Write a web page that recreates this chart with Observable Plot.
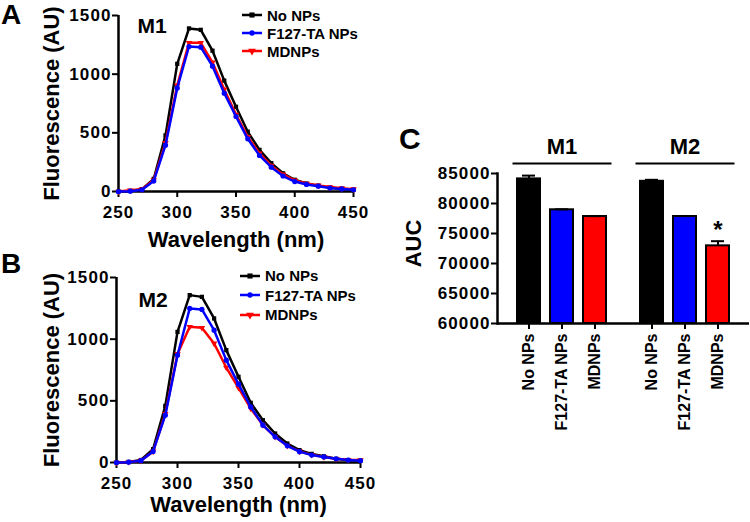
<!DOCTYPE html>
<html><head><meta charset="utf-8">
<script src="https://cdn.jsdelivr.net/npm/d3@7"></script>
<script src="https://cdn.jsdelivr.net/npm/@observablehq/plot@0.6"></script>
<style>
body{margin:0;background:#fff;}
#fig{position:relative;width:750px;height:522px;overflow:hidden;font-family:"Liberation Sans",Arial,sans-serif;font-weight:bold;color:#000;}
.letter{position:absolute;font-weight:bold;line-height:1;}
.legend{position:absolute;font-size:15px;}
.legend .row{display:flex;align-items:center;}
.legend svg{margin-right:4px;display:block;}
g[aria-label="y-axis tick label"] text, g[aria-label="x-axis tick label"].num text{letter-spacing:1.1px;}
</style></head><body><div id="fig"></div>
<script>
// ---------- data ----------
const wavelengths = [250,260,270,280,290,300,310,320,330,340,350,360,370,380,390,400,410,420,430,440,450];
const seriesNames = ["No NPs","F127-TA NPs","MDNPs"];
const seriesColors = ["#000000","#0000ff","#ff0000"];
const seriesSymbols = ["square","circle","triangle"];

const m1NoNPs = [0,5,20,108,478,1088,1390,1378,1200,945,722,510,355,242,155,100,68,50,32,22,15];
const m1F127  = [0,3,15,90,395,883,1236,1230,1068,838,639,449,307,207,132,85,60,45,30,22,15];
const m1MDNPs = [0,10,20,98,415,905,1267,1267,1100,870,655,465,325,220,145,95,68,52,38,28,20];

const m2NoNPs = [0,5,20,108,459,1059,1357,1343,1168,911,695,484,343,235,154,100,70,50,30,20,15];
const m2F127  = [0,3,15,90,384,870,1249,1241,1073,830,635,451,303,208,135,88,60,45,30,20,15];
const m2MDNPs = [0,5,15,90,395,880,1100,1092,965,770,605,438,303,208,135,90,62,45,30,22,20];

const xTicks = [250,300,350,400,450];
const yTicks = [0,500,1000,1500];

const barGroups = ["M1","M1","M1","M2","M2","M2"];
const barTreatments = ["No NPs","F127-TA NPs","MDNPs","No NPs","F127-TA NPs","MDNPs"];
const barAUC = [84100,78950,77830,83700,77830,72940];
const barSEM = [550,80,60,250,80,780];
const barSig = ["","","","","","*"];
const aucTicks = [60000,65000,70000,75000,80000,85000];
const groupNames = ["M1","M2"];

// ---------- helpers ----------
const FONT = "'Liberation Sans', Arial, sans-serif";
const fig = document.getElementById("fig");
function place(el, left, top){ el.style.position="absolute"; el.style.left=left+"px"; el.style.top=top+"px"; fig.appendChild(el); return el; }

function spectrum(vals, label, L){
  const rows = [];
  seriesNames.forEach((s,k)=>wavelengths.forEach((w,i)=>rows.push({series:s, wl:w, v:vals[k][i]})));
  const drawOrder = ["No NPs","MDNPs","F127-TA NPs"];
  const marks = [
    Plot.ruleX([wavelengths[0]], {stroke:"#000", strokeWidth:2.5}),
    Plot.ruleY([0], {stroke:"#000", strokeWidth:2.5}),
    Plot.axisX({ticks:xTicks, tickSize:6, tickPadding:8, strokeWidth:2, fontSize:17, label:null, tickFormat:d=>String(d), className:"num"}),
    Plot.axisY({ticks:yTicks, tickSize:6, tickPadding:1, strokeWidth:2, fontSize:17, label:null, tickFormat:d=>String(d)}),
    Plot.axisX({ticks:[], tickSize:0, fontSize:22, label:"Wavelength (nm)", labelAnchor:"center", labelArrow:"none", labelOffset:L.xLabelOffset}),
    Plot.axisY({ticks:[], tickSize:0, fontSize:22, label:"Fluorescence (AU)", labelAnchor:"center", labelArrow:"none", labelOffset:L.yLabelOffset}),
    Plot.text([label], {frameAnchor:"top-left", dx:L.mdx, dy:L.mdy, fontSize:21, lineAnchor:"top", textAnchor:"start"})
  ];
  for (const s of drawOrder){
    const d = rows.filter(r=>r.series===s);
    const k = seriesNames.indexOf(s);
    marks.push(Plot.line(d, {x:"wl", y:"v", stroke:seriesColors[k], strokeWidth:2.5}));
    marks.push(Plot.dot(d, {x:"wl", y:"v", fill:seriesColors[k], stroke:"none", symbol:()=>seriesSymbols[k], r: k===1?2.6:2.4, rotate: k===2?180:0}));
  }
  return Plot.plot({
    width:L.width, height:L.height,
    marginLeft:L.ml, marginRight:L.mr, marginTop:L.mt, marginBottom:L.mb,
    x:{domain:[250,450]}, y:{domain:[0,1500]},
    symbol:{domain:seriesSymbols, range:seriesSymbols},
    style:{fontFamily:FONT, fontWeight:"bold", color:"#000", background:"transparent", overflow:"visible"},
    marks
  });
}

function legend(left, top, rowH){
  const div = document.createElement("div");
  div.className = "legend";
  seriesNames.forEach((s,k)=>{
    const row = document.createElement("div");
    row.className = "row"; row.style.height = rowH+"px";
    const ns = "http://www.w3.org/2000/svg";
    const sv = document.createElementNS(ns,"svg");
    sv.setAttribute("width",22); sv.setAttribute("height",10);
    const ln = document.createElementNS(ns,"line");
    ln.setAttribute("x1",1); ln.setAttribute("x2",21); ln.setAttribute("y1",5); ln.setAttribute("y2",5);
    ln.setAttribute("stroke",seriesColors[k]); ln.setAttribute("stroke-width",2.5);
    sv.appendChild(ln);
    const sym = d3.symbol(k===0?d3.symbolSquare:k===1?d3.symbolCircle:d3.symbolTriangle, k===1?22:26)();
    const p = document.createElementNS(ns,"path");
    p.setAttribute("d",sym); p.setAttribute("fill",seriesColors[k]);
    p.setAttribute("transform",`translate(11,5) rotate(${k===2?180:0})`);
    sv.appendChild(p);
    row.appendChild(sv);
    const t = document.createElement("span"); t.textContent = s; row.appendChild(t);
    div.appendChild(row);
  });
  return place(div, left, top);
}

function letter(txt, left, top, size){
  const d = document.createElement("div"); d.className="letter"; d.textContent=txt; d.style.fontSize=size+"px";
  return place(d, left, top);
}

// ---------- panel A ----------
const A = spectrum([m1NoNPs,m1F127,m1MDNPs], "M1", {width:380,height:260,ml:118,mr:27,mt:15,mb:69,xLabelOffset:55,yLabelOffset:75,mdx:19,mdy:3});
place(A, 0, 0);
legend(241, 6, 18);
letter("A", 1, 1, 28);

// ---------- panel B ----------
const B = spectrum([m2NoNPs,m2F127,m2MDNPs], "M2", {width:380,height:262,ml:116,mr:20,mt:17,mb:60,xLabelOffset:49,yLabelOffset:73,mdx:22,mdy:15});
place(B, 0, 260);
legend(239, 266, 19.5);
letter("B", 1, 250, 28);

// ---------- panel C ----------
const bars = barAUC.map((v,i)=>({group:barGroups[i], treatment:barTreatments[i], auc:v, sem:barSEM[i], sig:barSig[i]}));
const cLayout = {width:370, height:432, marginLeft:117, marginRight:1, marginTop:73, marginBottom:199};
const cStyle = {fontFamily:FONT, fontWeight:"bold", color:"#000", background:"transparent", overflow:"visible"};
const yScaleC = {domain:[aucTicks[0], aucTicks[aucTicks.length-1]], insetTop:10};

// bars, grouped by mouse line (faceted)
const C = Plot.plot({
  ...cLayout,
  fx:{domain:groupNames, paddingInner:0.2114, paddingOuter:0.13},
  x:{domain:seriesNames, padding:0.3, paddingOuter:0.1},
  y:{...yScaleC, axis:null},
  color:{domain:seriesNames, range:seriesColors},
  style:cStyle,
  marks:[
    Plot.barY(bars, {fx:"group", x:"treatment", y1:aucTicks[0], y2:"auc", fill:"treatment", stroke:"#000", strokeWidth:2}),
    Plot.ruleX(bars, {fx:"group", x:"treatment", y1:"auc", y2:d=>d.auc+d.sem, stroke:"#000", strokeWidth:2}),
    Plot.tickY(bars, {fx:"group", x:"treatment", y:d=>d.auc+d.sem, stroke:"#000", strokeWidth:2, insetLeft:5, insetRight:5}),
    Plot.text(bars, {fx:"group", x:"treatment", y:d=>d.auc+d.sem, text:"sig", fontSize:24, lineAnchor:"bottom", dy:-3}),
    Plot.frame({anchor:"top", stroke:"#000", strokeWidth:2}),
    Plot.axisX({tickSize:6, tickPadding:4, tickRotate:-90, strokeWidth:2, fontSize:16, label:null}),
    Plot.axisFx({anchor:"top", tickSize:0, tickPadding:10, fontSize:22, label:null})
  ]
});
place(C, 380, 90);

// shared value axis and baseline
const Cax = Plot.plot({
  ...cLayout,
  y:yScaleC,
  style:cStyle,
  marks:[
    Plot.ruleY([aucTicks[0]], {stroke:"#000", strokeWidth:2.5}),
    Plot.frame({anchor:"left", insetTop:10, stroke:"#000", strokeWidth:2.5}),
    Plot.axisY({ticks:aucTicks, tickSize:6, tickPadding:1, strokeWidth:2, fontSize:17, label:null, tickFormat:d=>String(d)}),
    Plot.axisY({ticks:[], tickSize:0, fontSize:22, label:"AUC", labelAnchor:"center", labelArrow:"none", labelOffset:92})
  ]
});
Cax.style.pointerEvents = "none";
place(Cax, 380, 90);
letter("C", 399, 124, 30);
</script>
</body></html>
